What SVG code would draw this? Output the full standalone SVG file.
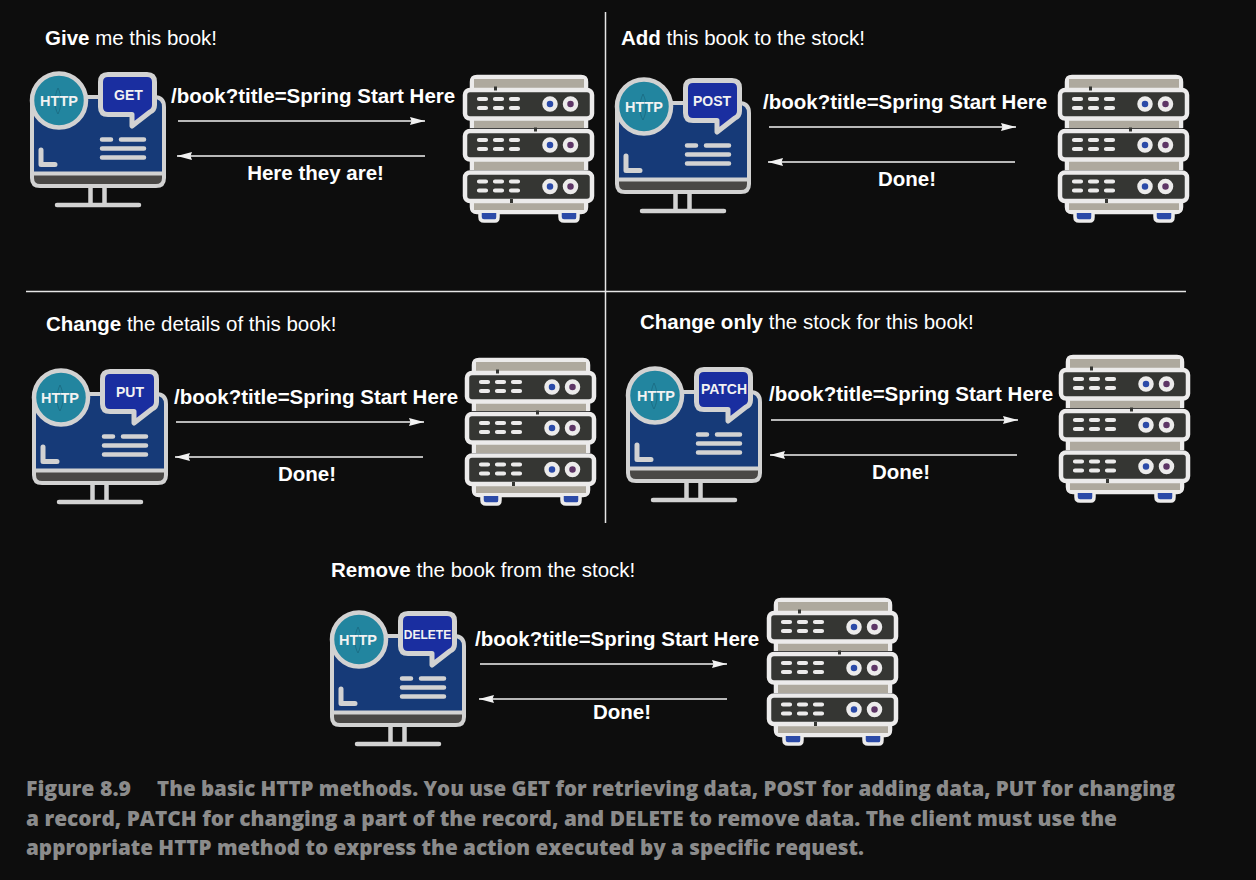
<svg xmlns="http://www.w3.org/2000/svg" xmlns:xlink="http://www.w3.org/1999/xlink" width="1256" height="880" viewBox="0 0 1256 880">
<style>
text{font-family:"Liberation Sans",Arial,sans-serif;fill:#fff}
.h{font-size:20.500px}
.b{font-weight:700}
.u{font-size:20.500px;font-weight:700}
.r{font-size:20.500px;font-weight:700;text-anchor:middle}
.m{font-size:14px;font-weight:700;text-anchor:middle;fill:#f2f2f2}
.http{font-size:14.500px;font-weight:700;text-anchor:middle;fill:#f2f2f2}
.c{font-family:"Open Sans",sans-serif;font-size:20.500px;font-weight:800;fill:#8b8b8b}
.rule{stroke:#e6e6e6;stroke-width:1.500;fill:none}
.arr{stroke:#f2f2f2;stroke-width:1.500;fill:none}
.g{stroke:#d2d2d2;fill:none;stroke-linecap:round;stroke-linejoin:round}
.s{stroke:#ecebeb;fill:none;stroke-linecap:round;stroke-linejoin:round}
</style>
<defs>
<marker id="ah" viewBox="0 0 15 8" refX="15" refY="4" markerWidth="15" markerHeight="8" markerUnits="userSpaceOnUse" orient="auto-start-reverse"><path d="M0 0L15 4L0 8L1.500 4Z" fill="#f2f2f2"/></marker>
<g id="client">
<path d="M90.500 188V203M104.500 188V203M57 205H139" class="g" stroke-width="4.500"/>
<path d="M32 105Q32 97 40 97H154Q164 97 164 107V174H32Z" fill="#163a78" stroke="#d2d2d2" stroke-width="4"/>
<path d="M32 173.500H164V178Q164 186 156 186H40Q32 186 32 178Z" fill="#4a4846" stroke="#d2d2d2" stroke-width="4"/>
<path d="M41 150V164.500H55" class="g" stroke-width="5"/>
<path d="M102 139.500H111M121 139.500H144M102 148.500H144M102 157.500H144" class="g" stroke-width="4.500"/>
<circle cx="59" cy="100.500" r="27" fill="#22859f" stroke="#d2d2d2" stroke-width="4.500"/>
<path d="M58 88C54 96 54 108 58 114C62 106 62 96 58 88Z" fill="none" stroke="#1a6a80" stroke-width="0.800"/>
<path d="M108 74.500H147Q154.500 74.500 154.500 82V105Q154.500 110 150 112L132 126V114.500H108Q100.500 114.500 100.500 107V82Q100.500 74.500 108 74.500Z" fill="#1a2ea0" stroke="#d2d2d2" stroke-width="5" stroke-linejoin="round"/>
</g>
<g id="server">
<path d="M472 88V82Q472 77 477 77H581Q586 77 586 82V88M472 120V128M586 120V128M472 161V170M586 161V170M472 202V207Q472 212 477 212H581Q586 212 586 207V202" fill="#aea99e" stroke="#ecebeb" stroke-width="4.500"/>
<rect x="474" y="79" width="110" height="9" fill="#aea99e"/>
<rect x="474" y="120" width="110" height="8" fill="#aea99e"/>
<rect x="474" y="161" width="110" height="9" fill="#aea99e"/>
<rect x="474" y="202" width="110" height="8" fill="#aea99e"/>
<path d="M480 213V217Q480 221 484 221H495Q498 221 498 217V213M560 213V217Q560 221 564 221H575Q578 221 578 217V213" fill="#2b4aa8" stroke="#ecebeb" stroke-width="3.500"/>
<g id="unit">
<rect x="465" y="90" width="127" height="28.500" rx="5" fill="#353633" stroke="#ecebeb" stroke-width="4.500"/>
<path d="M479 99H486M495 99H502M511 99H518M479 108H486M495 108H502M511 108H518" class="s" stroke-width="4.200"/>
<circle cx="550" cy="104" r="5.500" fill="#2b4aa8" stroke="#ecebeb" stroke-width="4.500"/>
<circle cx="570.500" cy="104" r="5.500" fill="#5d3566" stroke="#ecebeb" stroke-width="4.500"/>
</g>
<use xlink:href="#unit" href="#unit" y="41"/>
<use xlink:href="#unit" href="#unit" y="82.500"/>
<path d="M494 88.500H497M534 129.500H537M510 201H513" stroke="#353633" stroke-width="4"/>
</g>
</defs>
<rect width="1256" height="880" fill="#0d0d0d"/>
<g id="connectors">
<path class="rule" d="M605.500 12V523M26 291.500H1186"/>
<path class="arr" marker-end="url(#ah)" d="M178 121H425"/>
<path class="arr" marker-end="url(#ah)" d="M425 156H177"/>
<path class="arr" marker-end="url(#ah)" d="M769 127H1016"/>
<path class="arr" marker-end="url(#ah)" d="M1015 162H768"/>
<path class="arr" marker-end="url(#ah)" d="M176 422H424"/>
<path class="arr" marker-end="url(#ah)" d="M423 457H175"/>
<path class="arr" marker-end="url(#ah)" d="M771 420H1018"/>
<path class="arr" marker-end="url(#ah)" d="M1017 455H770"/>
<path class="arr" marker-end="url(#ah)" d="M480 664H727"/>
<path class="arr" marker-end="url(#ah)" d="M727 699H479"/>
</g>
<g id="panel-get">
<text class="h" x="45" y="45"><tspan class="b">Give</tspan> me this book!</text>
<g id="client-get"><use href="#client"/><text class="http" x="59" y="106">HTTP</text><text class="m" x="128.500" y="100">GET</text></g>
<g id="server-get"><use href="#server"/></g>
<text class="u" x="171" y="103">/book?title=Spring Start Here</text>
<text class="r" x="315.500" y="180">Here they are!</text>
</g>
<g id="panel-post">
<text class="h" x="621" y="45"><tspan class="b">Add</tspan> this book to the stock!</text>
<g id="client-post"><use href="#client" x="585" y="6"/><text class="http" x="644" y="112">HTTP</text><text class="m" x="712" y="106">POST</text></g>
<g id="server-post"><use href="#server" x="595"/></g>
<text class="u" x="763" y="109">/book?title=Spring Start Here</text>
<text class="r" x="907" y="186">Done!</text>
</g>
<g id="panel-put">
<text class="h" x="46" y="331"><tspan class="b">Change</tspan> the details of this book!</text>
<g id="client-put"><use href="#client" x="2" y="297"/><text class="http" x="60" y="403">HTTP</text><text class="m" x="130" y="397">PUT</text></g>
<g id="server-put"><use href="#server" x="2" y="283"/></g>
<text class="u" x="174" y="404">/book?title=Spring Start Here</text>
<text class="r" x="307" y="481">Done!</text>
</g>
<g id="panel-patch">
<text class="h" x="640" y="329"><tspan class="b">Change only</tspan> the stock for this book!</text>
<g id="client-patch"><use href="#client" x="596" y="295"/><text class="http" x="656" y="401">HTTP</text><text class="m" x="724" y="394">PATCH</text></g>
<g id="server-patch"><use href="#server" x="596" y="280"/></g>
<text class="u" x="769" y="401">/book?title=Spring Start Here</text>
<text class="r" x="901" y="479">Done!</text>
</g>
<g id="panel-delete">
<text class="h" x="331" y="577"><tspan class="b">Remove</tspan> the book from the stock!</text>
<g id="client-delete"><use href="#client" x="300" y="539"/><text class="http" x="358" y="645">HTTP</text><text class="m" x="427.500" y="639" style="font-size:12px">DELETE</text></g>
<g id="server-delete"><use href="#server" x="304" y="523"/></g>
<text class="u" x="475" y="646">/book?title=Spring Start Here</text>
<text class="r" x="622" y="719">Done!</text>
</g>
<g id="caption">
<text class="c" x="26" y="796" textLength="105" lengthAdjust="spacingAndGlyphs">Figure 8.9</text>
<text class="c" x="157" y="796" textLength="1018" lengthAdjust="spacingAndGlyphs">The basic HTTP methods. You use GET for retrieving data, POST for adding data, PUT for changing</text>
<text class="c" x="26" y="826" textLength="1091" lengthAdjust="spacingAndGlyphs">a record, PATCH for changing a part of the record, and DELETE to remove data. The client must use the</text>
<text class="c" x="26" y="855" textLength="838" lengthAdjust="spacingAndGlyphs">appropriate HTTP method to express the action executed by a specific request.</text>
</g>
</svg>
